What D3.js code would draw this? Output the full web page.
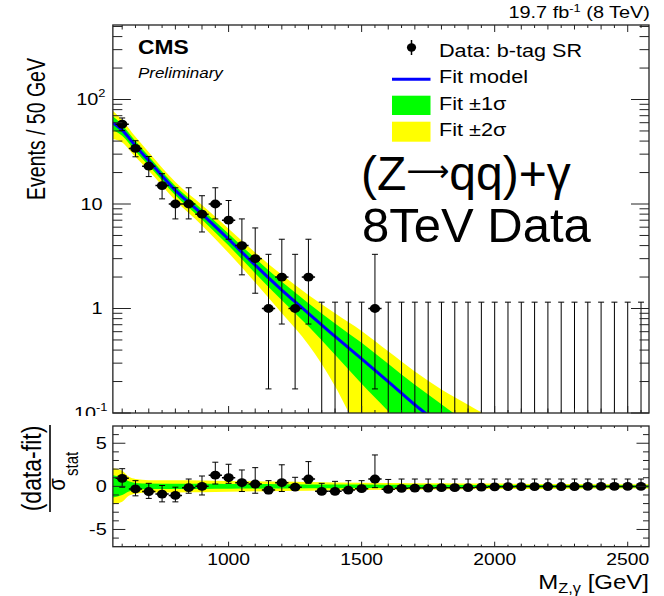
<!DOCTYPE html>
<html><head><meta charset="utf-8">
<script src="https://cdn.jsdelivr.net/npm/d3@7"></script>
<style>body{margin:0;background:#fff}svg{display:block}</style>
</head><body>
<svg id="c" width="664" height="596"></svg>
<script>
// ---------------- DATA ----------------
const binCenters = [600,650,700,750,800,850,900,950,1000,1050,1100,1150,1200,1250,1300,1350,1400,1450,1500,1550,
  1600,1650,1700,1750,1800,1850,1900,1950,2000,2050,2100,2150,2200,2250,2300,2350,2400,2450,2500,2550];
const counts = [58,34,23,15,10,10,8,10,7,4,3,1,2,1,2,0,0,0,0,1,
  0,0,0,0,0,0,0,0,0,0,0,0,0,0,0,0,0,0,0,0];
const errLo = [50.4,28.3,18.3,11.2,7.2,7.2,5.4,7.2,4.6,2.1,1.4,0.17,0.71,0.17,0.71,0,0,0,0,0.17,
  0,0,0,0,0,0,0,0,0,0,0,0,0,0,0,0,0,0,0,0];
const errHi = [66.6,40.3,28.5,19.5,14.3,14.3,12.0,14.3,10.8,7.2,5.9,3.3,4.6,3.3,4.6,1.15,1.15,1.15,1.15,3.3,
  1.15,1.15,1.15,1.15,1.15,1.15,1.15,1.15,1.15,1.15,1.15,1.15,1.15,1.15,1.15,1.15,1.15,1.15,1.15,1.15];
const pulls = [0.93,-0.3,-0.6,-0.9,-1.05,-0.15,0.0,1.3,1.0,0.43,0.27,-0.43,0.43,-0.1,0.85,-0.58,-0.58,-0.43,-0.27,0.85,
  -0.35,-0.23,-0.2,-0.2,-0.15,-0.15,-0.15,-0.1,-0.05,-0.04,-0.03,-0.03,-0.02,-0.02,-0.02,-0.01,-0.01,-0.01,-0.01,-0.01];
const pullHi = [2.05,0.66,0.35,0.1,-0.1,0.85,1.2,2.8,2.56,1.9,2.17,0.66,2.5,1.05,2.87,0.35,0.58,0.66,0.66,3.64,
  0.8,0.85,0.85,0.85,0.85,0.85,0.85,0.85,0.85,0.85,0.85,0.85,0.85,0.85,0.85,0.85,0.85,0.85,0.85,0.85];
const pullLo = [-0.1,-1.1,-1.4,-1.8,-1.8,-0.8,-1.0,0.27,0.35,-0.6,-0.8,-0.85,-0.6,-0.4,0.35,-0.58,-0.58,-0.43,-0.27,-0.15,
  -0.35,-0.23,-0.2,-0.2,-0.15,-0.15,-0.15,-0.1,-0.05,-0.04,-0.03,-0.03,-0.02,-0.02,-0.02,-0.01,-0.01,-0.01,-0.01,-0.01];

const fitMass  = [565, 600, 650, 700, 800, 900, 1000, 1100, 1200, 1300, 1400, 1500, 1600, 1700, 1800, 1900, 2000, 2100];
const fitVal   = [60, 51, 36, 26, 13.5, 8.0, 4.6, 2.6, 1.5, 0.9, 0.54, 0.33, 0.2, 0.12, 0.075, 0.046, 0.028, 0.017];
const band1Lo  = [51, 44.9, 32.0, 23.4, 12.15, 7.12, 4.0, 2.18, 1.2, 0.675, 0.36, 0.19, 0.104, 0.054, 0.0285, 0.0129, 0.0042, 0.001];
const band1Hi  = [69, 57.1, 40.0, 28.6, 14.85, 8.88, 5.2, 3.02, 1.8, 1.125, 0.72, 0.47, 0.296, 0.186, 0.1215, 0.079, 0.052, 0.034];
const band2Lo  = [42, 38.8, 28.1, 20.8, 10.8, 6.24, 3.4, 1.77, 0.9, 0.45, 0.18, 0.053, 0.01, 0.005, 0.002, 0.001, 0.001, 0.001];
const band2Hi  = [78, 63.2, 43.9, 31.2, 16.2, 9.76, 5.8, 3.43, 2.1, 1.35, 0.9, 0.61, 0.39, 0.25, 0.168, 0.12, 0.085, 0.055];

const pullBandMass = [565, 600, 625, 650, 700, 800, 900, 1000, 1200, 1400, 1600, 1800, 2000, 2300, 2580];
const pullBand1    = [1.3, 1.0, 0.6, 0.4, 0.32, 0.3, 0.3, 0.28, 0.25, 0.22, 0.2, 0.18, 0.15, 0.13, 0.12];
const pullBand2    = [2.1, 1.8, 1.1, 0.85, 0.72, 0.7, 0.68, 0.62, 0.55, 0.45, 0.4, 0.36, 0.32, 0.28, 0.25];

const xTickLabels = [1000, 1500, 2000, 2500];
const yTopDecades = [0.1, 1, 10, 100];
const yTopLabels = [["10","-1"],["1",""],["10",""],["10","2"]];
const yBotLabels = [-5, 0, 5];

// ---------------- LAYOUT ----------------
const FONT = "'Liberation Sans', Arial, Helvetica, sans-serif";
const SX = 1.17;
const L = 112.86, R = 649, T1 = 25, B1 = 413, T2 = 426, B2 = 546.7;
const svg = d3.select("#c");
svg.append("rect").attr("width",664).attr("height",596).attr("fill","#fff");

const x = d3.scaleLinear().domain([565, 2580]).range([L, R]);
const yTop = d3.scaleLog().domain([0.1, Math.pow(10, 2.713)]).range([B1, T1]);
const yBot = d3.scaleLinear().domain([-7, 7]).range([B2, T2]);

function stext(g, px, py, str, size, opts = {}) {
  const t = g.append("text")
    .attr("transform", `translate(${px},${py}) scale(${opts.sx || SX},1)` + (opts.rot ? " rotate(-90)" : ""))
    .attr("font-family", FONT).attr("font-size", size)
    .attr("text-anchor", opts.anchor || "start")
    .attr("fill", "#000");
  if (opts.weight) t.attr("font-weight", opts.weight);
  if (opts.style) t.attr("font-style", opts.style);
  if (str !== null) t.text(str);
  return t;
}

const defs = svg.append("defs");
defs.append("clipPath").attr("id","clipTop").append("rect")
  .attr("x", L).attr("y", T1).attr("width", R - L).attr("height", B1 - T1);
defs.append("clipPath").attr("id","clipBot").append("rect")
  .attr("x", L).attr("y", T2).attr("width", R - L).attr("height", B2 - T2);

// ---------------- TOP PANEL ----------------
const gTop = svg.append("g");
const plotTop = gTop.append("g").attr("clip-path","url(#clipTop)");
const fitPts = fitMass.map((m,i)=>({m, v:fitVal[i], l1:band1Lo[i], h1:band1Hi[i], l2:band2Lo[i], h2:band2Hi[i]}));
const cl = v => Math.max(v, 1e-3);
plotTop.append("path").datum(fitPts).attr("fill","#ffff00")
  .attr("d", d3.area().x(d=>x(d.m)).y0(d=>yTop(cl(d.l2))).y1(d=>yTop(cl(d.h2))).curve(d3.curveMonotoneX));
plotTop.append("path").datum(fitPts).attr("fill","#00ff00")
  .attr("d", d3.area().x(d=>x(d.m)).y0(d=>yTop(cl(d.l1))).y1(d=>yTop(cl(d.h1))).curve(d3.curveMonotoneX));
plotTop.append("path").datum(fitPts).attr("fill","none").attr("stroke","#0000ff").attr("stroke-width",3)
  .attr("d", d3.line().x(d=>x(d.m)).y(d=>yTop(d.v)).curve(d3.curveMonotoneX));

const dataPts = binCenters.map((c,i)=>({c, n:counts[i], lo:errLo[i], hi:errHi[i]}));
const ymin = yTop.domain()[0];
const eb = plotTop.append("g").attr("stroke","#000").attr("stroke-width",1);
dataPts.forEach(d=>{
  const xc = x(d.c);
  const y1 = yTop(Math.max(d.lo, ymin*0.5)), y2 = yTop(d.hi);
  eb.append("line").attr("x1",xc).attr("x2",xc).attr("y1",y1).attr("y2",y2);
  eb.append("line").attr("x1",xc-3).attr("x2",xc+3).attr("y1",y2).attr("y2",y2);
  if (d.n > 0) {
    eb.append("line").attr("x1",xc-3).attr("x2",xc+3).attr("y1",y1).attr("y2",y1);
    eb.append("line").attr("x1",x(d.c-25)).attr("x2",x(d.c+25)).attr("y1",yTop(d.n)).attr("y2",yTop(d.n)).attr("stroke-width",1.5);
  }
});
plotTop.append("g").selectAll("ellipse").data(dataPts.filter(d=>d.n>0)).join("ellipse")
  .attr("cx", d=>x(d.c)).attr("cy", d=>yTop(d.n)).attr("rx",5.2).attr("ry",4.4).attr("fill","#000");

// frame & ticks top
const tk = gTop.append("g").attr("stroke","#222").attr("stroke-width",1);
for (let m = 600; m <= 2550; m += 50) {
  const len = (m % 500 === 0) ? 7 : (m % 100 === 0 ? 4.5 : 3);
  tk.append("line").attr("x1",x(m)).attr("x2",x(m)).attr("y1",B1).attr("y2",B1-len);
  tk.append("line").attr("x1",x(m)).attr("x2",x(m)).attr("y1",T1).attr("y2",T1+len);
}
yTopDecades.forEach(dec=>{
  for (let j = 1; j <= 9; j++) {
    const v = dec * j;
    if (v > yTop.domain()[1]) break;
    const len = j === 1 ? 18 : 9.5;
    tk.append("line").attr("x1",L).attr("x2",L+len).attr("y1",yTop(v)).attr("y2",yTop(v));
    tk.append("line").attr("x1",R).attr("x2",R-len).attr("y1",yTop(v)).attr("y2",yTop(v));
  }
});
gTop.append("rect").attr("x",L).attr("y",T1).attr("width",R-L).attr("height",B1-T1)
  .attr("fill","none").attr("stroke","#222").attr("stroke-width",1.3);

// y tick labels top
yTopDecades.forEach((v,i)=>{
  const [base, sup] = yTopLabels[i];
  const t = stext(gTop, sup ? (sup === "-1" ? 107.5 : 105.5) : 102.5, yTop(v)+5.5, null, 17, {anchor:"end"});
  t.append("tspan").text(base);
  if (sup) t.append("tspan").attr("font-size",11).attr("dy",-8).text(sup);
});
// y axis title
stext(gTop, 45, 129, "Events / 50 GeV", 19.5, {anchor:"middle", rot:true, sx:1.28});

// CMS labels
stext(gTop, 138, 53.5, "CMS", 19.5, {weight:"bold"});
stext(gTop, 138, 78, "Preliminary", 14.5, {style:"italic"});
// lumi
{
  const t = stext(svg, 650, 18, null, 17, {anchor:"end"});
  t.append("tspan").text("19.7 fb");
  t.append("tspan").attr("font-size",11).attr("dy",-6).text("-1");
  t.append("tspan").attr("dy",6).text(" (8 TeV)");
}

// legend
const lg = svg.append("g");
lg.append("line").attr("x1",411.5).attr("x2",411.5).attr("y1",40).attr("y2",55).attr("stroke","#000").attr("stroke-width",1.5);
lg.append("ellipse").attr("cx",411.5).attr("cy",47.5).attr("rx",4.6).attr("ry",4.2).attr("fill","#000");
stext(lg, 439, 56.7, "Data: b-tag SR", 18.5);
lg.append("line").attr("x1",392).attr("x2",430.5).attr("y1",79.3).attr("y2",79.3).attr("stroke","#0000ff").attr("stroke-width",3);
stext(lg, 439, 83.3, "Fit model", 18.5);
lg.append("rect").attr("x",392).attr("y",95.7).attr("width",38.5).attr("height",19.3).attr("fill","#00ff00");
stext(lg, 439, 110, "Fit \u00B11\u03C3", 18.5);
lg.append("rect").attr("x",392).attr("y",121.7).attr("width",38.5).attr("height",20).attr("fill","#ffff00");
stext(lg, 439, 136, "Fit \u00B12\u03C3", 18.5);

// big overlay text
{
  const t = svg.append("text").attr("x",361).attr("y",190).attr("font-family",FONT).attr("font-size",48).attr("fill","#000");
  t.append("tspan").text("(Z");
  t.append("tspan").attr("font-family","'DejaVu Sans', sans-serif").attr("font-size",30).attr("dy",-9).text("\u27F6");
  t.append("tspan").attr("dy",9).text("qq)+\u03B3");
}
svg.append("text").attr("x",362).attr("y",242).attr("font-family",FONT).attr("font-size",49).attr("fill","#000").text("8TeV Data");

// ---------------- BOTTOM PANEL ----------------
svg.append("rect").attr("x",0).attr("y",416).attr("width",664).attr("height",180).attr("fill","#fff");
const gBot = svg.append("g");
const plotBot = gBot.append("g").attr("clip-path","url(#clipBot)");
const pbPts = pullBandMass.map((m,i)=>({m, b1:pullBand1[i], b2:pullBand2[i]}));
plotBot.append("path").datum(pbPts).attr("fill","#ffff00")
  .attr("d", d3.area().x(d=>x(d.m)).y0(d=>yBot(-d.b2)).y1(d=>yBot(d.b2)).curve(d3.curveMonotoneX));
plotBot.append("path").datum(pbPts).attr("fill","#00ff00")
  .attr("d", d3.area().x(d=>x(d.m)).y0(d=>yBot(-d.b1)).y1(d=>yBot(d.b1)).curve(d3.curveMonotoneX));

const pullPts = binCenters.map((c,i)=>({c, p:pulls[i], hi:pullHi[i], lo:pullLo[i]}));
const eb2 = plotBot.append("g").attr("stroke","#000").attr("stroke-width",1);
pullPts.forEach(d=>{
  const xc = x(d.c);
  eb2.append("line").attr("x1",xc).attr("x2",xc).attr("y1",yBot(d.lo)).attr("y2",yBot(d.hi));
  eb2.append("line").attr("x1",xc-3).attr("x2",xc+3).attr("y1",yBot(d.hi)).attr("y2",yBot(d.hi));
  if (d.lo < d.p - 0.05) eb2.append("line").attr("x1",xc-3).attr("x2",xc+3).attr("y1",yBot(d.lo)).attr("y2",yBot(d.lo));
  eb2.append("line").attr("x1",x(d.c-25)).attr("x2",x(d.c+25)).attr("y1",yBot(d.p)).attr("y2",yBot(d.p)).attr("stroke-width",1.5);
});
plotBot.append("g").selectAll("ellipse").data(pullPts).join("ellipse")
  .attr("cx", d=>x(d.c)).attr("cy", d=>yBot(d.p)).attr("rx",5.2).attr("ry",4.4).attr("fill","#000");

const tk2 = gBot.append("g").attr("stroke","#222").attr("stroke-width",1);
for (let m = 600; m <= 2550; m += 50) {
  const len = (m % 500 === 0) ? 5 : (m % 100 === 0 ? 3 : 2);
  tk2.append("line").attr("x1",x(m)).attr("x2",x(m)).attr("y1",B2).attr("y2",B2-len);
  tk2.append("line").attr("x1",x(m)).attr("x2",x(m)).attr("y1",T2).attr("y2",T2+len);
}
for (let v = -6; v <= 6; v++) {
  const len = (v % 5 === 0) ? 12.5 : 6;
  tk2.append("line").attr("x1",L).attr("x2",L+len).attr("y1",yBot(v)).attr("y2",yBot(v));
  tk2.append("line").attr("x1",R).attr("x2",R-len).attr("y1",yBot(v)).attr("y2",yBot(v));
}
gBot.append("rect").attr("x",L).attr("y",T2).attr("width",R-L).attr("height",B2-T2)
  .attr("fill","none").attr("stroke","#222").attr("stroke-width",1.3);

yBotLabels.forEach(v=>{
  stext(gBot, 106.7, yBot(v)+6, String(v), 17, {anchor:"end"});
});
xTickLabels.forEach(v=>{
  stext(gBot, x(v), 565, String(v), 16.5, {anchor:"middle"});
});
// x title
{
  const t = stext(gBot, 649, 589, null, 20.5, {anchor:"end"});
  t.append("tspan").text("M");
  t.append("tspan").attr("font-size",14).attr("dy",4).text("Z,\u03B3");
  t.append("tspan").attr("dy",-4).text(" [GeV]");
}
// y title (fraction)
stext(gBot, 41, 468.5, "(data-fit)", 23, {anchor:"middle", rot:true});
gBot.append("line").attr("x1",50).attr("x2",50).attr("y1",425).attr("y2",512).attr("stroke","#000").attr("stroke-width",1.6);
stext(gBot, 65, 490.5, "\u03C3", 20, {rot:true});
stext(gBot, 78, 476, "stat", 15, {rot:true});
</script>
</body></html>
